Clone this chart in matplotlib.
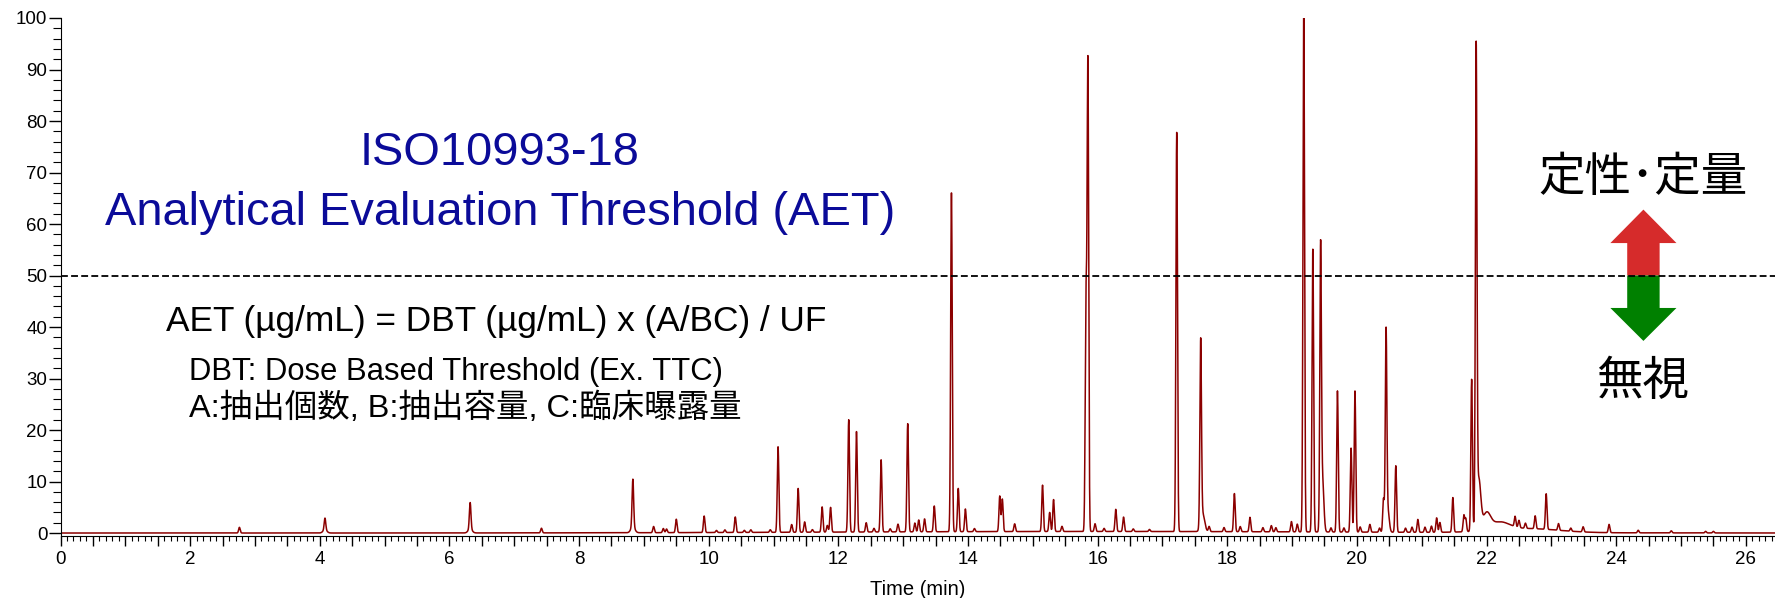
import numpy as np
import matplotlib
matplotlib.use("Agg")
import matplotlib.pyplot as plt
from matplotlib.ticker import MultipleLocator, FuncFormatter

plt.rcParams['font.family'] = ['Liberation Sans', 'Noto Sans CJK JP', 'DejaVu Sans']

# peak table: retention time (min) and height (%)
peak_time = [2.76, 4.08, 6.32, 7.42, 8.83, 9.15, 9.30, 9.35, 9.50, 9.93,
             10.12, 10.25, 10.41, 10.55, 10.65, 10.95, 11.07, 11.28, 11.38, 11.48,
             11.60, 11.75, 11.83, 11.88, 12.16, 12.28, 12.43, 12.55, 12.66, 12.80,
             12.92, 13.07, 13.18, 13.24, 13.33, 13.48, 13.745, 13.85, 13.96, 14.10,
             14.49, 14.53, 14.72, 15.15, 15.26, 15.32, 15.45, 15.82, 15.85, 15.96,
             16.10, 16.28, 16.40, 16.55, 16.80, 17.22, 17.59, 17.72, 17.95, 18.11,
             18.20, 18.35, 18.55, 18.68, 18.75, 18.99, 19.08, 19.18, 19.32, 19.44,
             19.60, 19.70, 19.80, 19.91, 19.97, 20.05, 20.20, 20.35, 20.41, 20.45,
             20.60, 20.75, 20.85, 20.94, 21.05, 21.15, 21.23, 21.28, 21.48, 21.65,
             21.68, 21.77, 21.84, 22.44, 22.50, 22.60, 22.75, 22.92, 23.11, 23.30,
             23.49, 23.89, 24.34, 24.85, 25.38, 25.50]
peak_height = [1.1, 2.3, 5.1, 0.9, 9.2, 1.2, 0.8, 0.7, 2.6, 3.2,
               0.4, 0.5, 3.0, 0.4, 0.5, 0.5, 16.6, 1.5, 8.5, 2.0,
               0.5, 4.9, 1.3, 4.8, 21.8, 19.5, 1.8, 0.7, 14.0, 0.6,
               1.5, 21.0, 1.7, 2.3, 2.5, 5.0, 66.0, 8.4, 4.4, 0.6,
               6.9, 6.3, 1.5, 9.0, 3.7, 6.2, 1.0, 43.2, 90.5, 1.5,
               0.6, 4.3, 2.8, 0.5, 0.4, 77.5, 35.5, 1.0, 0.8, 7.4,
               1.0, 2.8, 0.8, 1.2, 0.8, 2.0, 1.5, 101.0, 54.9, 53.5,
               0.8, 27.4, 0.8, 16.3, 27.4, 1.0, 1.5, 0.8, 6.5, 38.5,
               12.9, 0.8, 1.0, 2.5, 1.0, 1.2, 2.8, 1.9, 6.7, 3.2,
               2.5, 29.5, 91.0, 2.0, 1.4, 1.0, 2.5, 6.9, 1.3, 0.6,
               1.0, 1.6, 0.5, 0.4, 0.3, 0.3]

# wider features: shoulders, tailing and the raised baseline
broad_time = [4.08, 6.32, 8.83, 17.62, 19.47, 20.48, 21.88, 22.00, 22.20, 22.60, 16.0]
broad_height = [0.6, 0.8, 1.2, 3.5, 10.0, 4.0, 9.7, 3.0, 1.5, 0.8, 0.3]
broad_width = [0.03, 0.03, 0.03, 0.03, 0.02, 0.02, 0.03, 0.06, 0.15, 0.5, 4.0]

threshold = 50
x_ticks_labelled = list(range(0, 27, 2))

W, H = 1775, 598
fig = plt.figure(figsize=(W / 100, H / 100), dpi=100)
ax = fig.add_axes([60.5 / W, (H - 535.6) / H, 1 - 60.5 / W, (535.6 - 18) / H])

t = np.arange(0, 26.5, 0.002)
signal = np.zeros_like(t)
for tc, h in zip(peak_time, peak_height):
    signal += h * np.exp(-0.5 * ((t - tc) / 0.012) ** 2)
for tc, h, w in zip(broad_time, broad_height, broad_width):
    signal += h * np.exp(-0.5 * ((t - tc) / w) ** 2)

ax.plot(t, signal, color='#8b0000', lw=1.1)
ax.axhline(threshold, color='black', lw=1.3, dashes=(3.8, 1.8))

# double arrow around the threshold
ax_x, head_hw, shaft_hw = 24.42, 0.51, 0.25
up_tip, up_base, dn_base, dn_tip = 62.8, 56.3, 43.7, 37.3
ax.fill([ax_x - shaft_hw, ax_x - shaft_hw, ax_x - head_hw, ax_x, ax_x + head_hw,
         ax_x + shaft_hw, ax_x + shaft_hw],
        [threshold, up_base, up_base, up_tip, up_base, up_base, threshold],
        color='#d62b2b', lw=0)
ax.fill([ax_x - shaft_hw, ax_x - shaft_hw, ax_x - head_hw, ax_x, ax_x + head_hw,
         ax_x + shaft_hw, ax_x + shaft_hw],
        [threshold, dn_base, dn_base, dn_tip, dn_base, dn_base, threshold],
        color='#008000', lw=0)

ax.set_xlim(0, 26.45)
ax.set_ylim(-0.5, 100)
for s in ['top', 'right']:
    ax.spines[s].set_visible(False)
ax.xaxis.set_major_locator(MultipleLocator(0.5))
ax.xaxis.set_minor_locator(MultipleLocator(0.1))
ax.xaxis.set_major_formatter(FuncFormatter(
    lambda v, p: f"{v:g}" if round(v, 3) in x_ticks_labelled else ""))
ax.yaxis.set_major_locator(MultipleLocator(10))
ax.yaxis.set_minor_locator(MultipleLocator(2))
ax.tick_params(axis='x', which='major', length=7, width=1, labelsize=13.5, pad=4)
ax.tick_params(axis='x', which='minor', length=3.5, width=0.8)
ax.tick_params(axis='y', which='major', length=8.5, width=1, labelsize=13.5, pad=1)
ax.tick_params(axis='y', which='minor', length=5.5, width=0.8)
ax.set_xlabel("Time (min)", fontsize=14.5, labelpad=9)

blue = '#0b0b99'
fig.text(500 / W, 1 - 165 / H, "ISO10993-18", ha='center', va='baseline',
         fontsize=33.8, color=blue)
fig.text(500 / W, 1 - 225 / H, "Analytical Evaluation Threshold (AET)", ha='center',
         va='baseline', fontsize=33.8, color=blue)
fig.text(166 / W, 1 - 331 / H, "AET (µg/mL) = DBT (µg/mL) x (A/BC) / UF",
         va='baseline', fontsize=25.4)
fig.text(189 / W, 1 - 380 / H, "DBT: Dose Based Threshold (Ex. TTC)",
         va='baseline', fontsize=22.3)
fig.text(189 / W, 1 - 417 / H, "A:抽出個数, B:抽出容量, C:臨床曝露量",
         va='baseline', fontsize=23.4)
fig.text(1643 / W, 1 - 178 / H, "定性･定量", ha='center', va='center', fontsize=33.5,
         family=['Noto Sans CJK JP', 'DejaVu Sans'])
fig.text(1643 / W, 1 - 382 / H, "無視", ha='center', va='center', fontsize=33.5,
         family=['Noto Sans CJK JP', 'DejaVu Sans'])

fig.savefig("out.png", dpi=100)
